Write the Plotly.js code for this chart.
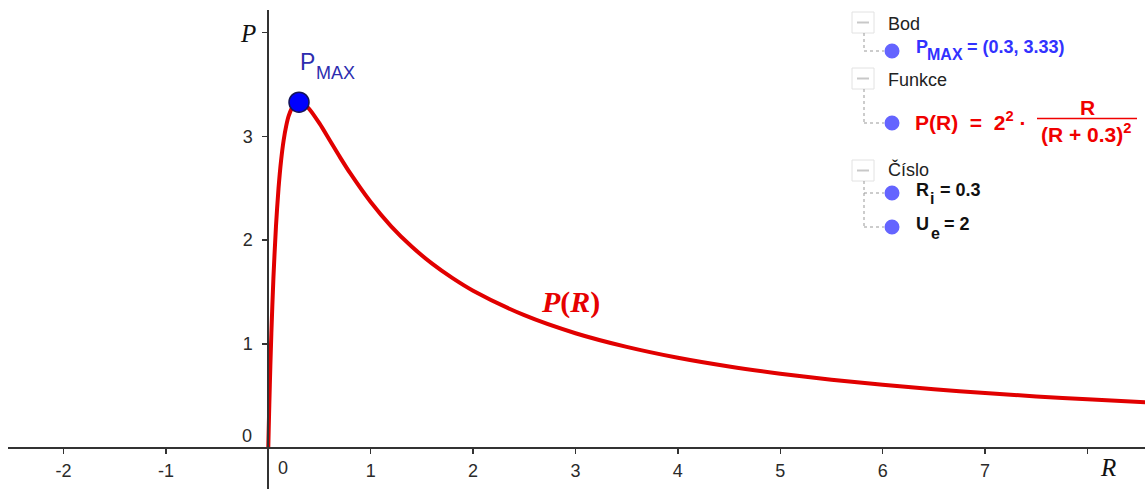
<!DOCTYPE html>
<html>
<head>
<meta charset="utf-8">
<script src="https://cdn.plot.ly/plotly-3.0.1.min.js"></script>
<style>html,body{margin:0;padding:0;background:#fff}#chart{width:1145px;height:489px}</style>
</head>
<body>
<div id="chart"></div>
<script>
// Values (curve P(R), R >= 0)
var R_values = [0, 0.005, 0.01, 0.02, 0.03, 0.05, 0.075, 0.1, 0.125, 0.15, 0.175, 0.2, 0.25, 0.3, 0.35, 0.4, 0.5, 0.6, 0.7, 0.8, 1.0, 1.2, 1.4, 1.6, 1.8, 2.0, 2.5, 3.0, 3.5, 4.0, 4.5, 5.0, 5.5, 6.0, 6.5, 7.0, 7.5, 8.0, 8.6];
var P_values = [0, 0.215, 0.416, 0.781, 1.102, 1.633, 2.133, 2.5, 2.768, 2.963, 3.102, 3.2, 3.306, 3.333, 3.314, 3.265, 3.125, 2.963, 2.8, 2.645, 2.367, 2.133, 1.938, 1.773, 1.633, 1.512, 1.276, 1.102, 0.970, 0.865, 0.781, 0.712, 0.654, 0.605, 0.562, 0.525, 0.493, 0.465, 0.434];
var pmaxR = [0.3];
var pmaxP = [3.33];
var xTickVals = [-2, -1, 0, 1, 2, 3, 4, 5, 6, 7, 8];
var xTickText = ['-2', '-1', ' ', '1', '2', '3', '4', '5', '6', '7', ' '];
var yTickVals = [1, 2, 3, 4];
var yTickText = ['1', '2', '3', ' '];

var W = 1145, H = 489;
function px(x){ return x / W; }
function py(y){ return 1 - y / H; }

var sans = 'Liberation Sans, Arial, sans-serif';
var serif = 'Liberation Serif, Times New Roman, serif';
var tickFont = {family: sans, size: 18, color: '#2a2a2a'};
var blue = 'rgb(50,50,255)';
var red = 'rgb(240,0,0)';
var lgFont = {family: sans, size: 18, color: '#222'};
var lgBold = function(c, s){ return {family: sans, size: s || 18, color: c, weight: 'bold'}; };

var traces = [
  {x: R_values, y: P_values, type: 'scatter', mode: 'lines',
   line: {color: 'rgb(225,0,0)', width: 4, shape: 'spline', smoothing: 0.8},
   hoverinfo: 'x+y', showlegend: false},
  {x: pmaxR, y: pmaxP, type: 'scatter', mode: 'markers',
   marker: {color: 'rgb(0,0,255)', size: 20, line: {color: 'rgb(20,20,90)', width: 1.5}},
   showlegend: false}
];

function txt(x, y, text, font, xanchor){
  return {xref: 'paper', yref: 'paper', x: px(x), y: py(y), text: text, showarrow: false,
          xanchor: xanchor || 'center', yanchor: 'middle', font: font};
}

var annotations = [
  // zero labels
  txt(283, 468, '0', tickFont),
  txt(247, 436, '0', tickFont),
  // axis names
  txt(248, 33, '<i>P</i>', {family: serif, size: 25, color: '#111'}),
  txt(1108, 467, '<i>R</i>', {family: serif, size: 25, color: '#111'}),
  // point label
  txt(298, 62, 'P', {family: sans, size: 23, color: 'rgb(45,45,175)'}, 'left'),
  txt(314, 73, 'MAX', {family: sans, size: 18, color: 'rgb(45,45,175)'}, 'left'),
  // curve label
  txt(570, 302, '<b><i>P</i>(<i>R</i>)</b>', {family: serif, size: 30, color: 'rgb(230,0,0)'}),
  // algebra view
  txt(886, 24, 'Bod', lgFont, 'left'),
  txt(914, 47, 'P', lgBold(blue), 'left'),
  txt(925, 55, 'MAX', lgBold(blue, 16), 'left'),
  txt(965, 47, '= (0.3, 3.33)', lgBold(blue), 'left'),
  txt(886, 80, 'Funkce', lgFont, 'left'),
  txt(913, 121, 'P(R)  =  2<sup>2</sup> ·', {family: sans, size: 21, color: red, weight: 'bold'}, 'left'),
  txt(1087, 107, 'R', {family: sans, size: 21, color: red, weight: 'bold'}),
  txt(1086, 133, '(R + 0.3)<sup>2</sup>', {family: sans, size: 21, color: red, weight: 'bold'}),
  txt(886, 169, 'Číslo', lgFont, 'left'),
  txt(914, 190, 'R', lgBold('#111'), 'left'),
  txt(928, 198, 'i', lgBold('#111', 16), 'left'),
  txt(938, 190, '= 0.3', lgBold('#111'), 'left'),
  txt(914, 224, 'U', lgBold('#111'), 'left'),
  txt(929, 233, 'e', lgBold('#111', 16), 'left'),
  txt(942, 224, '= 2', lgBold('#111'), 'left')
];

var shapes = [];
function box(y0){
  shapes.push({type: 'rect', xref: 'paper', yref: 'paper', x0: px(852), x1: px(874), y0: py(y0), y1: py(y0 + 21),
    line: {color: '#e2e2e2', width: 1}, fillcolor: '#fff'});
  shapes.push({type: 'line', xref: 'paper', yref: 'paper', x0: px(857), x1: px(869), y0: py(y0 + 10.5), y1: py(y0 + 10.5),
    line: {color: '#c8c8c8', width: 2}});
}
function dotted(x0, y0, x1, y1){
  shapes.push({type: 'line', xref: 'paper', yref: 'paper', x0: px(x0), x1: px(x1), y0: py(y0), y1: py(y1),
    line: {color: '#999', width: 1, dash: 'dot'}});
}
function bullet(y){
  shapes.push({type: 'circle', xref: 'paper', yref: 'paper', x0: px(884.5), x1: px(899.5), y0: py(y - 7.5), y1: py(y + 7.5),
    line: {color: 'rgb(100,100,255)', width: 0}, fillcolor: 'rgb(100,100,255)'});
}
box(12); dotted(864, 33, 864, 51); dotted(864, 51, 884, 51); bullet(51);
box(68); dotted(864, 89, 864, 123); dotted(864, 123, 884, 123); bullet(123);
box(160); dotted(864, 181, 864, 227); dotted(864, 193, 884, 193); dotted(864, 227, 884, 227); bullet(193); bullet(227);
// fraction bar
shapes.push({type: 'line', xref: 'paper', yref: 'paper', x0: px(1037), x1: px(1137), y0: py(118.5), y1: py(118.5),
  line: {color: red, width: 1.5}});

var layout = {
  width: W, height: H,
  margin: {l: 0, r: 0, t: 0, b: 0},
  paper_bgcolor: '#fff', plot_bgcolor: '#fff',
  showlegend: false,
  xaxis: {
    domain: [8 / W, 1], range: [-2.542, 8.562], anchor: 'free', position: 41.5 / H,
    showgrid: false, zeroline: false, showline: true, linecolor: '#333', linewidth: 2,
    ticks: 'outside', ticklen: 5, tickwidth: 1.5, tickcolor: '#333', ticklabelstandoff: 2,
    tickmode: 'array', tickvals: xTickVals, ticktext: xTickText, tickfont: tickFont
  },
  yaxis: {
    domain: [0, 1 - 10 / H], range: [-0.400, 4.219], anchor: 'free', position: 268.3 / W,
    showgrid: false, zeroline: false, showline: true, linecolor: '#333', linewidth: 2,
    ticks: 'outside', ticklen: 5, tickwidth: 1.5, tickcolor: '#333', ticklabelstandoff: 6,
    tickmode: 'array', tickvals: yTickVals, ticktext: yTickText, tickfont: tickFont
  },
  annotations: annotations,
  shapes: shapes
};

Plotly.newPlot('chart', traces, layout, {displayModeBar: false, staticPlot: true});
</script>
</body>
</html>
